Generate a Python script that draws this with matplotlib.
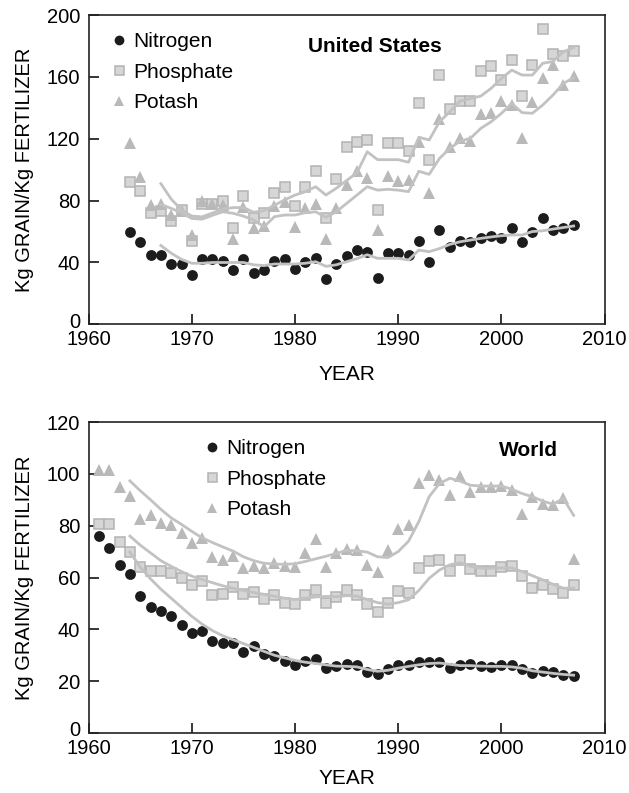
import matplotlib
matplotlib.use('Agg')
import matplotlib.pyplot as plt
import matplotlib.transforms as mtransforms
import numpy as np

plt.rcParams['font.family'] = ['Liberation Sans', 'DejaVu Sans']

# ---- United States, 1964-2007 ----
us_years = list(range(1964, 2008))
us_nitrogen = [60, 53, 45, 45, 39, 39, 32, 42, 42, 41,
               35, 42, 33, 35, 41, 42, 36, 40, 43, 29,
               39, 44, 48, 47, 30, 46, 46, 45, 54, 40,
               61, 50, 54, 53, 56, 57, 56, 62, 53, 60,
               69, 61, 62, 64]
us_phosphate = [92, 86, 72, 73, 67, 74, 54, 78, 78, 80,
                62.5, 83, 68.5, 72, 85, 89, 76.5, 89, 99, 69,
                94, 115, 118, 119, 74, 117.5, 117.5, 112, 143, 106,
                161.5, 139, 144.5, 144.5, 164, 167, 158, 171, 147.5, 167.5,
                191, 175, 173.5, 176.5]
us_potash = [117, 95, 77, 78, 71, 73, 57.5, 80, 78, 77,
             55, 76, 62.5, 63.5, 76.5, 79, 63, 75, 78, 55,
             75.5, 90, 99, 94.5, 61, 96, 92.5, 93.5, 118, 85,
             132.5, 115, 120.5, 118.5, 136, 136.5, 144.5, 142, 120.5, 143.5,
             159.5, 168, 155, 160.5]

# trend lines, 1967-2007
us_fit_years = list(range(1967, 2008))
us_nitrogen_fit = [51, 46, 42, 39.5, 39.5, 40, 40, 40, 40, 38.5,
                   38, 39, 39, 39, 39.5, 40.5, 37.5, 38.5, 40.5, 42.5,
                   45, 42.7, 42.7, 42.7, 41.6, 48, 47, 49, 51.7, 53.4,
                   54.5, 55.6, 56.5, 57.3, 57.8, 57.8, 60, 60.5, 61.6, 62.6,
                   63.6]
us_phosphate_fit = [91, 81, 74, 70, 69.5, 72, 74.5, 75.5, 75.5, 72.5,
                    73.5, 77, 80.5, 83.6, 85.8, 89, 83.6, 88, 93, 98,
                    111.6, 106.5, 106.5, 106.5, 104.8, 121, 119.2, 131, 137.5, 144.4,
                    146, 147.6, 152.6, 159, 164.4, 161.2, 161.2, 168.8, 170, 176.3,
                    178.9]
us_potash_fit = [77.5, 75, 72, 68.5, 68, 70.5, 72.8, 71.8, 70, 67.4,
                 63.1, 69.6, 70.7, 70.7, 72.2, 72.8, 69.2, 72.8, 78.2, 83.6,
                 89, 86.8, 87.3, 86.8, 85.8, 99, 97, 107.3, 113.8, 118.5,
                 120.3, 126.7, 131, 136.4, 142.9, 136.9, 136.5, 141.8, 148.3, 155.8,
                 159.5]

# ---- World, 1961-2007 ----
w_years = list(range(1961, 2008))
w_nitrogen = [76, 71.5, 65, 61.3, 53, 48.8, 47, 45, 41.6, 38.4,
              39.3, 35.6, 34.8, 34.8, 31.3, 33.5, 30.3, 29.8, 27.7, 26.2,
              27.7, 28.7, 24.9, 25.8, 26.8, 26.4, 23.6, 22.6, 24.6, 26.4,
              26.2, 27.4, 27.4, 27.4, 24.9, 26.2, 26.8, 25.9, 25.5, 26.4,
              26.4, 24.6, 23.3, 23.8, 23.6, 22.3, 22.1]
w_phosphate = [80.5, 80.5, 73.8, 69.8, 64, 62.7, 62.5, 61.7, 59.8, 57,
               58.5, 53.1, 53.5, 56.3, 53.8, 54.4, 51.8, 53.1, 50.3, 49.7,
               53.4, 55.1, 50, 52.3, 55.1, 53.1, 49.7, 46.7, 50.3, 54.7,
               54.2, 63.8, 66.3, 66.9, 62.4, 66.9, 63.1, 62.7, 62.7, 64,
               64.6, 60.4, 55.9, 57.2, 55.6, 54, 57]
w_potash = [101.3, 101.3, 95.1, 91.5, 82.6, 84.2, 80.9, 80.2, 77.3, 73.3,
            75.2, 67.9, 66.9, 68.3, 63.8, 64.3, 63.6, 65.7, 64.4, 64,
            69.4, 74.9, 64, 69.4, 71.1, 70.7, 64.9, 62.1, 70.8, 78.8,
            80.1, 96.4, 99.6, 97.7, 92, 99, 92.9, 94.9, 94.9, 95.2,
            93.6, 84.6, 91.2, 88.4, 87.8, 90.7, 67.2]

w_fit_years = list(range(1964, 2008))
w_nitrogen_fit = [69.8, 64, 59.5, 55.5, 52, 48.5, 45, 42, 39.5, 37.5,
                  36, 34.5, 33, 31.5, 30, 29, 28, 27.3, 26.8, 26.3,
                  25.8, 25.7, 25.5, 24.5, 23.8, 24.2, 25, 25.7, 26.3, 26.8,
                  27, 26.5, 26, 26, 25.8, 25.7, 25.7, 25.5, 25, 24,
                  23.5, 23, 22.6, 22.3]
w_phosphate_fit = [76, 72.5, 69.5, 66.5, 64.3, 62.3, 60.5, 59.2, 58, 56.8,
                   55.8, 55, 54.2, 53.5, 52.8, 52, 51.5, 52, 52.5, 52.7,
                   52.6, 53, 52.8, 51.5, 50.3, 49.7, 50.3, 51.4, 55, 59.7,
                   62.9, 64.9, 65.7, 64.3, 63.6, 63.6, 63.7, 63.7, 62.3, 60.7,
                   59.1, 57.4, 55.9, 55.9]
w_potash_fit = [97.3, 93.5, 90, 86.3, 83, 80.5, 77.8, 75.3, 73.5, 71.8,
                70.2, 68, 66.5, 65.5, 65.2, 65.1, 65.3, 66.2, 67.2, 68.2,
                69.3, 70.5, 70.3, 69.8, 68, 67.7, 70, 74, 81.6, 91.2,
                96.3, 98.3, 97.2, 95.6, 95.3, 95.3, 95.3, 94.1, 92.4, 91.2,
                89.5, 88.3, 90.5, 84]

series_labels = ['Nitrogen', 'Phosphate', 'Potash']

FS = 15
line_col = '#c2c2c2'
sq_face, sq_edge = '#d6d6d6', '#b3b3b3'
tri_col = '#b9b9b9'
dot_col = '#1c1c1c'


def panel(ax, years, n, p, k, fit_years, nf, pf, kf, ymax, ystep, title, tpos, legpos):
    h1, = ax.plot(years, n, 'o', color=dot_col, ms=7.8, mew=0, zorder=3)
    h2, = ax.plot(years, p, 's', mfc=sq_face, mec=sq_edge, ms=7.2, mew=1.1, zorder=2)
    h3, = ax.plot(years, k, '^', color=tri_col, ms=8.5, mew=0, zorder=2)
    for f in (pf, kf, nf):
        ax.plot(fit_years, f, '-', color=line_col, lw=2.0, zorder=4)
    ax.set_xlim(1960, 2010)
    ax.set_ylim(0, ymax)
    ax.set_xticks(np.arange(1960, 2011, 10))
    ax.set_yticks(np.arange(0, ymax + 1, ystep))
    ax.tick_params(direction='in', length=7, width=1.1, labelsize=FS - 0.5,
                   top=False, right=False)
    ax.tick_params(axis='x', pad=4)
    ax.tick_params(axis='y', pad=6)
    for s in ax.spines.values():
        s.set_linewidth(1.2)
        s.set_color('#222222')
    ax.set_xlabel('YEAR', fontsize=FS)
    ax.set_ylabel('Kg GRAIN/Kg FERTILIZER', fontsize=FS - 0.5)
    ax.yaxis.set_label_coords(-0.106, 0.5)
    ax.text(tpos[0], tpos[1], title, transform=ax.transAxes, fontsize=FS,
            fontweight='bold', ha='center', va='center')
    leg = ax.legend([h1, h2, h3], series_labels, loc='upper left',
                    bbox_to_anchor=legpos, frameon=False, fontsize=FS,
                    handlelength=0.8, handletextpad=0.3, labelspacing=0.55,
                    borderpad=0, borderaxespad=0, markerscale=0.9)
    return leg


fig = plt.figure(figsize=(6.29, 7.93), dpi=100)
ax1 = fig.add_axes([0.1409, 0.591, 0.8203, 0.390])
ax2 = fig.add_axes([0.1409, 0.0757, 0.8203, 0.3921])

panel(ax1, us_years, us_nitrogen, us_phosphate, us_potash,
      us_fit_years, us_nitrogen_fit, us_phosphate_fit, us_potash_fit,
      200, 40, 'United States', (0.555, 0.8975), (0.043, 0.945))
ax1.xaxis.set_label_coords(0.5, -0.132)

panel(ax2, w_years, w_nitrogen, w_phosphate, w_potash,
      w_fit_years, w_nitrogen_fit, w_phosphate_fit, w_potash_fit,
      120, 20, 'World', (0.8516, 0.91), (0.2226, 0.9445))
ax2.xaxis.set_label_coords(0.5, -0.117)

# lift the "0" label a little so it sits just above "1960"
fig.canvas.draw()
lift = mtransforms.ScaledTranslation(0, 3 / 72, fig.dpi_scale_trans)
for ax in (ax1, ax2):
    lab = ax.get_yticklabels()[0]
    lab.set_transform(lab.get_transform() + lift)

fig.savefig('out.png', dpi=100)
